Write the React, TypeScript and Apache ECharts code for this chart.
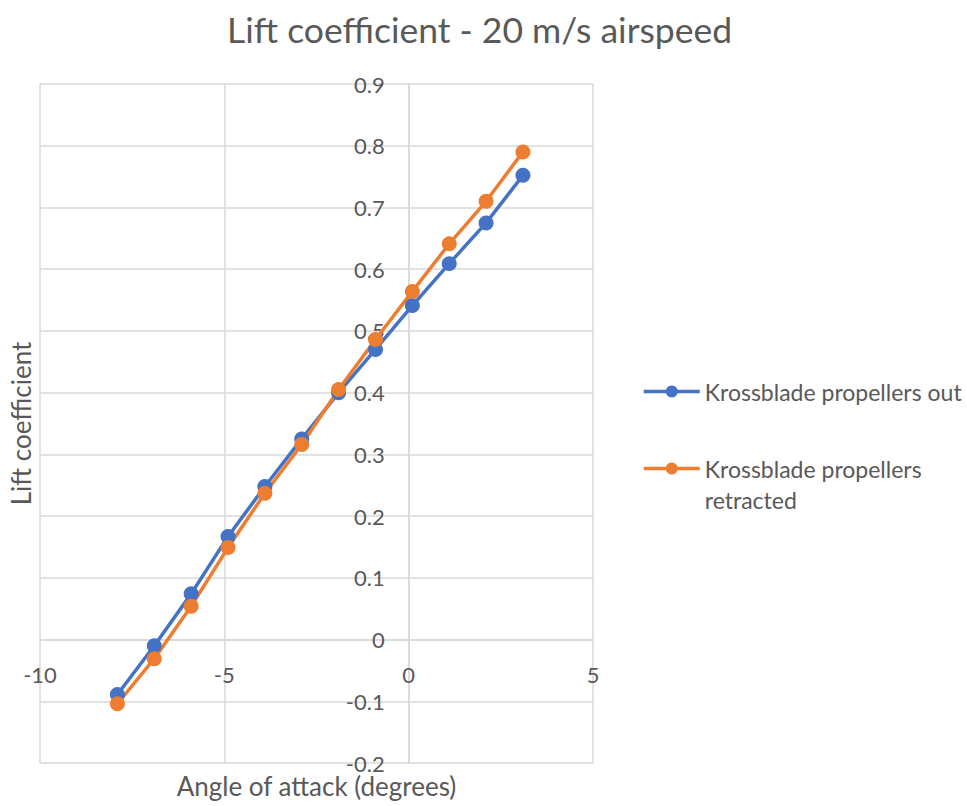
import React, { useEffect, useRef } from "react";
import * as echarts from "echarts";

const angles = [-7.9, -6.9, -5.9, -4.9, -3.9, -2.9, -1.9, -0.9, 0.1, 1.1, 2.1, 3.1];
const liftOut = [-0.089, -0.01, 0.074, 0.167, 0.248, 0.325, 0.4, 0.47, 0.541, 0.609, 0.675, 0.752];
const liftRetracted = [-0.104, -0.031, 0.054, 0.149, 0.237, 0.316, 0.405, 0.486, 0.564, 0.641, 0.71, 0.79];
const seriesNames = ["Krossblade propellers out", "Krossblade propellers retracted"];
const titleText = "Lift coefficient - 20 m/s airspeed";
const xName = "Angle of attack (degrees)";
const yName = "Lift coefficient";

const FONT = "Lato";
const TXT = "#595959";
const GRID = "#D9D9D9";

const X_MIN = -10;
const X_MAX = 5;
const Y_MIN = -0.2;
const Y_MAX = 0.9;
const G_LEFT = 40;
const G_TOP = 84;
const G_W = 553;
const G_H = 679;

export default function App() {
  const ref = useRef<HTMLDivElement>(null);
  useEffect(() => {
    document.body.style.margin = "0";
    const chart = echarts.init(ref.current!, null, { renderer: "svg" });
    const mk = (ys: number[]) => angles.map((a, i) => [a, ys[i]]);
    // axes cross at zero (Excel style): shift the axes from the grid edges to the zero lines
    const xOffset = -(G_H * (0 - Y_MIN)) / (Y_MAX - Y_MIN);
    const yOffset = -(G_W * (0 - X_MIN)) / (X_MAX - X_MIN);
    const legendCommon = {
      orient: "vertical",
      left: 637,
      itemWidth: 56,
      itemHeight: 15,
      lineStyle: { width: 3.5 },
    };
    chart.setOption({
      animation: false,
      textStyle: { fontFamily: FONT },
      title: {
        text: titleText,
        left: 222,
        top: 6,
        textStyle: { fontFamily: FONT, fontSize: 35.5, fontWeight: "normal", color: TXT },
      },
      grid: { left: G_LEFT, top: G_TOP, width: G_W, height: G_H, containLabel: false, outerBoundsMode: "none" },
      legend: [
        {
          ...legendCommon,
          data: [seriesNames[0]],
          top: 375,
          textStyle: { fontFamily: FONT, fontSize: 23, color: TXT },
        },
        {
          ...legendCommon,
          data: [seriesNames[1]],
          top: 417,
          formatter: () => "\nKrossblade propellers\nretracted",
          textStyle: { fontFamily: FONT, fontSize: 23, color: TXT, lineHeight: 31 },
        },
      ],
      xAxis: {
        type: "value",
        min: X_MIN,
        max: X_MAX,
        interval: 5,
        offset: xOffset,
        name: xName,
        nameLocation: "middle",
        nameGap: 133,
        nameTextStyle: { fontFamily: FONT, fontSize: 26, color: TXT },
        axisLine: { show: true, onZero: false, lineStyle: { color: GRID, width: 1.5 } },
        axisTick: { show: false },
        axisLabel: { fontFamily: FONT, fontSize: 22, color: TXT, margin: 24 },
        splitLine: { show: true, lineStyle: { color: GRID, width: 1.5 } },
      },
      yAxis: {
        type: "value",
        min: Y_MIN,
        max: Y_MAX,
        interval: 0.1,
        offset: yOffset,
        name: yName,
        nameLocation: "middle",
        nameGap: 375,
        nameRotate: 90,
        nameTextStyle: { fontFamily: FONT, fontSize: 26, color: TXT },
        axisLine: { show: true, onZero: false, lineStyle: { color: GRID, width: 1.5 } },
        axisTick: { show: false },
        axisLabel: { fontFamily: FONT, fontSize: 22, color: TXT, margin: 24 },
        splitLine: { show: true, lineStyle: { color: GRID, width: 1.5 } },
      },
      series: [
        {
          name: seriesNames[0],
          type: "line",
          data: mk(liftOut),
          symbol: "circle",
          symbolSize: 15,
          color: "#4472C4",
          lineStyle: { width: 3.5, color: "#4472C4" },
          itemStyle: { color: "#4472C4" },
        },
        {
          name: seriesNames[1],
          type: "line",
          data: mk(liftRetracted),
          symbol: "circle",
          symbolSize: 15,
          color: "#ED7D31",
          lineStyle: { width: 3.5, color: "#ED7D31" },
          itemStyle: { color: "#ED7D31" },
        },
      ],
    });
    return () => chart.dispose();
  }, []);
  return <div ref={ref} style={{ width: 967, height: 806 }} />;
}
